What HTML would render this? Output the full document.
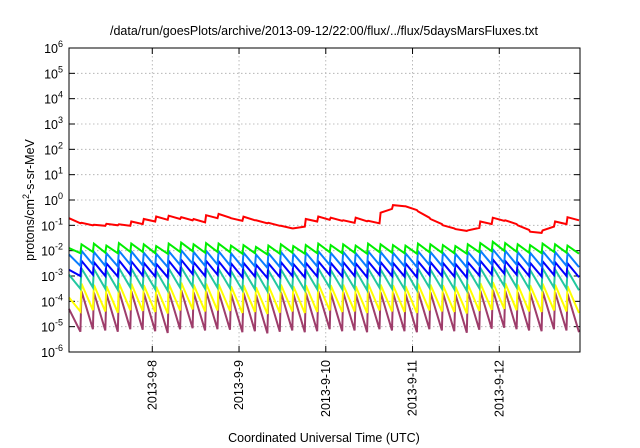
<!DOCTYPE html>
<html><head><meta charset="utf-8"><style>
body{margin:0;background:#fff;}
svg{display:block;font-family:"Liberation Sans",sans-serif;}
</style></head><body>
<svg id="chart" width="640" height="448" viewBox="0 0 640 448" xmlns="http://www.w3.org/2000/svg">
<text x="324" y="35" font-size="12.5" text-anchor="middle" fill="#000">/data/run/goesPlots/archive/2013-09-12/22:00/flux/../flux/5daysMarsFluxes.txt</text>
<g id="grid"></g>
<g id="yaxis"></g>
<g id="xaxis"></g>
<g id="series"></g>
<rect x="69" y="48" width="511" height="304" fill="none" stroke="#000" stroke-width="1"/>
<text transform="translate(34,200) rotate(-90)" font-size="12.5" text-anchor="middle">protons/cm<tspan dy="-5" font-size="9">2</tspan><tspan dy="5">-s-sr-MeV</tspan></text>
<text x="324" y="442" font-size="12.5" text-anchor="middle">Coordinated Universal Time (UTC)</text>
</svg>
<script>
const yExponents=[6,5,4,3,2,1,0,-1,-2,-3,-4,-5,-6];
const xTickLabels=["2013-9-8","2013-9-9","2013-9-10","2013-9-11","2013-9-12"];
const xTickDays=[1,2,3,4,5];
const redPeaks=[-0.72,-0.9,-0.98,-0.94,-0.96,-0.85,-0.75,-0.65,-0.62,-0.68,-0.75,-0.6,-0.55,-0.72,-0.66,-0.8,-0.9,-1.02,-1.12,-0.75,-0.65,-0.7,-0.8,-0.7,-0.82,-0.5,-0.2,-0.25,-0.45,-0.75,-1.0,-1.15,-1.2,-0.85,-0.7,-0.8,-1.0,-1.25,-1.2,-0.85,-0.68];
const redTroughs=[-0.92,-1.0,-1.02,-1.0,-1.02,-0.95,-0.85,-0.78,-0.75,-0.8,-0.88,-0.72,-0.7,-0.82,-0.8,-0.92,-1.02,-1.12,-1.05,-0.85,-0.78,-0.82,-0.9,-0.84,-0.92,-0.35,-0.25,-0.4,-0.7,-0.95,-1.12,-1.22,-1.1,-0.95,-0.82,-0.95,-1.18,-1.3,-1.05,-0.95,-0.8];
const greenPeaks=[-1.9,-1.75,-1.72,-1.8,-1.7,-1.72,-1.75,-1.82,-1.72,-1.68,-1.75,-1.7,-1.72,-1.8,-1.78,-1.85,-1.8,-1.75,-1.82,-1.78,-1.72,-1.78,-1.75,-1.8,-1.72,-1.75,-1.78,-1.8,-1.72,-1.75,-1.78,-1.82,-1.75,-1.7,-1.65,-1.7,-1.75,-1.78,-1.72,-1.75,-1.8];
const greenTroughs=[-2.1,-2.05,-2.08,-2.1,-2.05,-2.05,-2.1,-2.12,-2.05,-2.02,-2.08,-2.05,-2.06,-2.12,-2.1,-2.15,-2.12,-2.08,-2.12,-2.1,-2.06,-2.1,-2.08,-2.12,-2.06,-2.08,-2.1,-2.12,-2.06,-2.08,-2.1,-2.12,-2.06,-2.02,-2.0,-2.04,-2.08,-2.1,-2.05,-2.08,-2.12];
const skyPeaks=[-2.15,-2.0,-2.05,-2.1,-2.0,-2.02,-2.08,-2.12,-2.02,-1.98,-2.05,-2.0,-2.02,-2.1,-2.08,-2.15,-2.1,-2.05,-2.12,-2.08,-2.02,-2.08,-2.05,-2.1,-2.02,-2.05,-2.08,-2.1,-2.02,-2.05,-2.08,-2.12,-2.05,-2.0,-1.95,-2.0,-2.05,-2.08,-2.02,-2.05,-2.1];
const skyTroughs=[-2.6,-2.55,-2.6,-2.62,-2.55,-2.58,-2.62,-2.65,-2.56,-2.52,-2.6,-2.55,-2.58,-2.65,-2.62,-2.68,-2.64,-2.6,-2.65,-2.62,-2.56,-2.62,-2.6,-2.65,-2.56,-2.6,-2.62,-2.65,-2.56,-2.6,-2.62,-2.66,-2.58,-2.54,-2.5,-2.55,-2.6,-2.62,-2.56,-2.6,-2.65];
const bluePeaks=[-2.75,-2.4,-2.45,-2.5,-2.38,-2.42,-2.48,-2.52,-2.4,-2.36,-2.45,-2.4,-2.42,-2.5,-2.48,-2.55,-2.5,-2.45,-2.52,-2.48,-2.42,-2.48,-2.45,-2.5,-2.42,-2.45,-2.48,-2.5,-2.42,-2.45,-2.48,-2.52,-2.45,-2.4,-2.35,-2.4,-2.45,-2.48,-2.42,-2.45,-2.5];
const blueTroughs=[-3.0,-2.95,-3.0,-3.02,-2.95,-2.98,-3.02,-3.05,-2.96,-2.92,-3.0,-2.95,-2.98,-3.05,-3.02,-3.08,-3.04,-3.0,-3.05,-3.02,-2.96,-3.02,-3.0,-3.05,-2.96,-3.0,-3.02,-3.05,-2.96,-3.0,-3.02,-3.06,-2.98,-2.94,-2.9,-2.95,-3.0,-3.02,-2.96,-3.0,-3.05];
const tealPeaks=[-2.95,-2.7,-2.72,-2.78,-2.68,-2.7,-2.75,-2.8,-2.7,-2.66,-2.74,-2.7,-2.72,-2.8,-2.76,-2.82,-2.78,-2.74,-2.8,-2.76,-2.7,-2.76,-2.74,-2.78,-2.7,-2.74,-2.76,-2.78,-2.7,-2.74,-2.76,-2.8,-2.72,-2.68,-2.64,-2.68,-2.74,-2.76,-2.7,-2.74,-2.78];
const tealTroughs=[-3.5,-3.45,-3.5,-3.55,-3.45,-3.48,-3.52,-3.58,-3.46,-3.42,-3.5,-3.46,-3.48,-3.56,-3.52,-3.6,-3.55,-3.5,-3.56,-3.52,-3.46,-3.52,-3.5,-3.56,-3.46,-3.5,-3.52,-3.56,-3.46,-3.5,-3.52,-3.58,-3.48,-3.44,-3.4,-3.45,-3.5,-3.52,-3.46,-3.5,-3.56];
const yellowPeaks=[-3.85,-3.3,-3.35,-3.4,-3.28,-3.3,-3.36,-3.42,-3.3,-3.26,-3.34,-3.3,-3.32,-3.4,-3.36,-3.44,-3.38,-3.34,-3.4,-3.36,-3.3,-3.36,-3.34,-3.4,-3.3,-3.34,-3.36,-3.4,-3.3,-3.34,-3.36,-3.42,-3.32,-3.28,-3.24,-3.28,-3.34,-3.36,-3.3,-3.34,-3.4];
const yellowTroughs=[-4.4,-4.35,-4.4,-4.45,-4.35,-4.38,-4.42,-4.48,-4.36,-4.32,-4.4,-4.36,-4.38,-4.46,-4.42,-4.5,-4.45,-4.4,-4.46,-4.42,-4.36,-4.42,-4.4,-4.46,-4.36,-4.4,-4.42,-4.46,-4.36,-4.4,-4.42,-4.48,-4.38,-4.34,-4.3,-4.35,-4.4,-4.42,-4.36,-4.4,-4.46];
const purplePeaks=[-4.3,-3.6,-3.65,-3.7,-3.58,-3.6,-3.66,-3.72,-3.6,-3.56,-3.64,-3.6,-3.62,-3.7,-3.66,-3.74,-3.68,-3.64,-3.7,-3.66,-3.6,-3.66,-3.64,-3.7,-3.6,-3.64,-3.66,-3.7,-3.6,-3.64,-3.66,-3.72,-3.62,-3.58,-3.54,-3.58,-3.64,-3.66,-3.6,-3.64,-3.7];
const purpleTroughs=[-5.2,-5.1,-5.15,-5.2,-5.1,-5.12,-5.18,-5.25,-5.1,-5.06,-5.15,-5.1,-5.12,-5.22,-5.18,-5.26,-5.2,-5.15,-5.22,-5.18,-5.1,-5.18,-5.15,-5.22,-5.1,-5.15,-5.18,-5.22,-5.1,-5.15,-5.18,-5.24,-5.12,-5.08,-5.04,-5.1,-5.15,-5.18,-5.1,-5.15,-5.22];

const X0=69,X1=580,Y0=48,Y1=352;
const dayStart=0.04, daySpan=(X1-X0)/86.75;
function xs(d){return X0+(d-dayStart)/daySpan*(X1-X0);}
function ys(lg){return Y1-(lg+6)/12*(Y1-Y0);}
const NS="http://www.w3.org/2000/svg";
function mk(tag,attrs,parent){const e=document.createElementNS(NS,tag);for(const k in attrs)e.setAttribute(k,attrs[k]);parent.appendChild(e);return e;}
const grid=document.getElementById('grid'),ya=document.getElementById('yaxis'),xa=document.getElementById('xaxis'),sg=document.getElementById('series');
yExponents.forEach(ex=>{
  const y=ys(ex);
  if(ex<6&&ex>-6){const l=mk('line',{x1:X0,x2:X1,y1:y,y2:y,stroke:'#aaa','stroke-width':0.8,'stroke-dasharray':'1.5,2.5'},grid);
  
  
  const t1=mk('line',{x1:X0,x2:X0+6,y1:y,y2:y,stroke:'#000'},ya);
  const t2=mk('line',{x1:X1-6,x2:X1,y1:y,y2:y,stroke:'#000'},ya);}
  const t=mk('text',{x:63,y:y+5,'font-size':12.5,'text-anchor':'end'},ya);
  
  
  t.innerHTML='10<tspan dy="-6" font-size="9">'+ex+'</tspan>';
});
xTickDays.forEach((d,i)=>{
  const x=xs(d);
  const l=mk('line',{x1:x,x2:x,y1:Y0,y2:Y1,stroke:'#aaa','stroke-width':0.8,'stroke-dasharray':'1.5,2.5'},grid);
  
  
  const t1=mk('line',{x1:x,x2:x,y1:Y1-6,y2:Y1,stroke:'#000'},xa);
  const t2=mk('line',{x1:x,x2:x,y1:Y0,y2:Y0+6,stroke:'#000'},xa);
  const t=mk('text',{transform:`translate(${x+4},${360}) rotate(-90)`,'font-size':12.5,'text-anchor':'end'},xa);
  
  
  t.textContent=xTickLabels[i];
});
const series=[
 ['flux-purple','#9e3d6b',purplePeaks,purpleTroughs],
 ['flux-yellow','#ffff00',yellowPeaks,yellowTroughs],
 ['flux-teal','#22c8a0',tealPeaks,tealTroughs],
 ['flux-blue','#0000ff',bluePeaks,blueTroughs],
 ['flux-skyblue','#0a7cff',skyPeaks,skyTroughs],
 ['flux-green','#00ee00',greenPeaks,greenTroughs],
 ['flux-red','#ff0000',redPeaks,redTroughs]];
series.forEach(([name,col,pk,tr])=>{
  const n=pk.length,P=daySpan/n;let d='';
  for(let k=0;k<n;k++){
    d+=(k?'L':'M')+xs(dayStart+k*P).toFixed(1)+','+ys(pk[k]).toFixed(1);
    d+='L'+xs(dayStart+(k+1)*P-0.012).toFixed(1)+','+ys(tr[k]).toFixed(1);
  }
  const p=mk('path',{d:d,fill:'none',stroke:col,'stroke-width':2,'stroke-linejoin':'miter'},sg);
  
  
});
</script>
</body></html>
